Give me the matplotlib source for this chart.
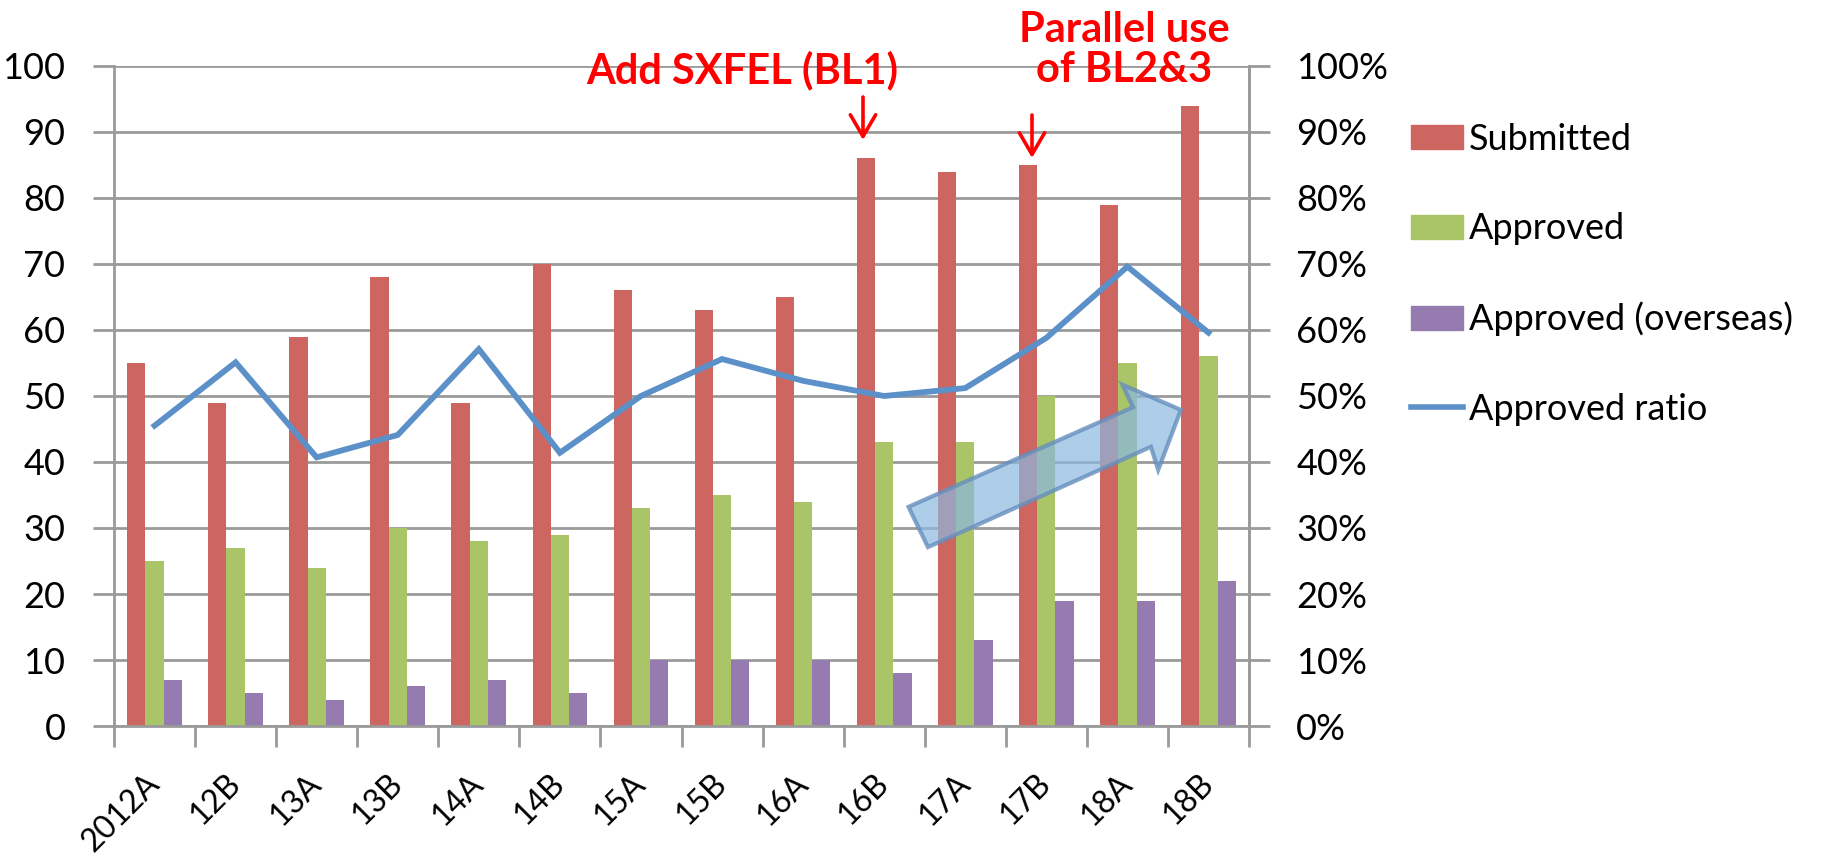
import matplotlib
matplotlib.use("Agg")
import matplotlib.pyplot as plt
from matplotlib.patches import Polygon, Patch, FancyArrowPatch
from matplotlib.lines import Line2D
import numpy as np

plt.rcParams["font.family"] = ["Lato", "DejaVu Sans"]

# proposal counts per round
rounds = ["2012A", "12B", "13A", "13B", "14A", "14B", "15A", "15B",
          "16A", "16B", "17A", "17B", "18A", "18B"]
submitted = [55, 49, 59, 68, 49, 70, 66, 63, 65, 86, 84, 85, 79, 94]
approved = [25, 27, 24, 30, 28, 29, 33, 35, 34, 43, 43, 50, 55, 56]
approved_overseas = [7, 5, 4, 6, 7, 5, 10, 10, 10, 8, 13, 19, 19, 22]
approved_ratio = [45.5, 55.1, 40.7, 44.1, 57.1, 41.4, 50.0, 55.6,
                  52.3, 50.0, 51.2, 58.8, 69.6, 59.6]  # percent

RED = "#CD6660"
GREEN = "#AAC468"
PURPLE = "#957BB0"
BLUE = "#5C90C8"
GRID = "#9A9A9A"

fig = plt.figure(figsize=(18.4, 8.61), dpi=100)
ax = fig.add_axes([114 / 1840, 1 - 726 / 861, (1249 - 114) / 1840, (726 - 66) / 861])

x = np.arange(len(rounds))
w = 0.225
ax.bar(x - w, submitted, w, color=RED, zorder=2)
ax.bar(x, approved, w, color=GREEN, zorder=2)
ax.bar(x + w, approved_overseas, w, color=PURPLE, zorder=2)

ax.set_xlim(-0.5, len(rounds) - 0.5)
ax.set_ylim(0, 100)
ax.set_yticks(range(0, 101, 10))
ax.yaxis.grid(True, color=GRID, lw=2, zorder=0)
ax.tick_params(axis="y", length=15, width=2, color=GRID, pad=20, labelsize=26)

# category labels centred, tick marks on the boundaries
ax.set_xticks(x)
ax.set_xticklabels(rounds, rotation=45, ha="right", va="center",
                   rotation_mode="anchor", fontsize=23)
ax.tick_params(axis="x", which="major", length=0, pad=38)
ax.set_xticks(np.arange(-0.5, len(rounds)), minor=True)
ax.tick_params(axis="x", which="minor", length=15, width=2, color=GRID)

for side in ["left", "bottom", "right"]:
    ax.spines[side].set_color(GRID)
    ax.spines[side].set_linewidth(2)
ax.spines["top"].set_visible(False)

# ratio on the secondary axis
ax2 = ax.twinx()
ax2.plot(x, approved_ratio, color=BLUE, lw=4.2, zorder=3, solid_joinstyle="miter")
ax2.set_ylim(0, 100)
ax2.set_yticks(range(0, 101, 10))
ax2.set_yticklabels([f"{v}%" for v in range(0, 101, 10)])
ax2.tick_params(axis="y", length=15, width=2, color=GRID, pad=19, labelsize=26)
for side in ["left", "bottom", "top"]:
    ax2.spines[side].set_visible(False)
ax2.spines["right"].set_color(GRID)
ax2.spines["right"].set_linewidth(2)

# trend arrow
arrow_pts = [(9.30, 33.2), (12.07, 48.3), (11.94, 51.7), (12.66, 47.9),
             (12.38, 38.8), (12.29, 42.3), (9.54, 27.1)]
ax2.add_patch(Polygon(arrow_pts, closed=True, facecolor=(0.55, 0.72, 0.88, 0.7),
                      edgecolor=(0.40, 0.56, 0.74, 0.8), lw=3, zorder=4))

# annotations
fig.text(742 / 1840, 1 - 70 / 861, "Add SXFEL (BL1)", color="red",
         fontsize=30, fontweight="bold", ha="center", va="center")
fig.text(1124 / 1840, 1 - 50 / 861, "Parallel use\nof BL2&3", color="red",
         fontsize=30, fontweight="bold", ha="center", va="center",
         linespacing=1.05)
for (px, top, bottom) in [(863, 97, 140), (1032, 115, 158)]:
    fig.add_artist(FancyArrowPatch(
        (px / 1840, 1 - top / 861), (px / 1840, 1 - bottom / 861),
        transform=fig.transFigure, arrowstyle="->,head_length=0.65,head_width=0.38",
        color="red", lw=2.6, mutation_scale=24, shrinkA=0, shrinkB=0))

handles = [Patch(color=RED), Patch(color=GREEN), Patch(color=PURPLE),
           Line2D([], [], color=BLUE, lw=4)]
labels = ["Submitted", "Approved", "Approved (overseas)", "Approved ratio"]
fig.legend(handles, labels, loc="upper left", bbox_to_anchor=(1411 / 1840, 1 - 123 / 861),
           frameon=False, fontsize=26, handlelength=1.45, handleheight=0.65,
           handletextpad=0.15, labelspacing=1.56, borderpad=0, borderaxespad=0)

fig.savefig("out.png", dpi=100)
